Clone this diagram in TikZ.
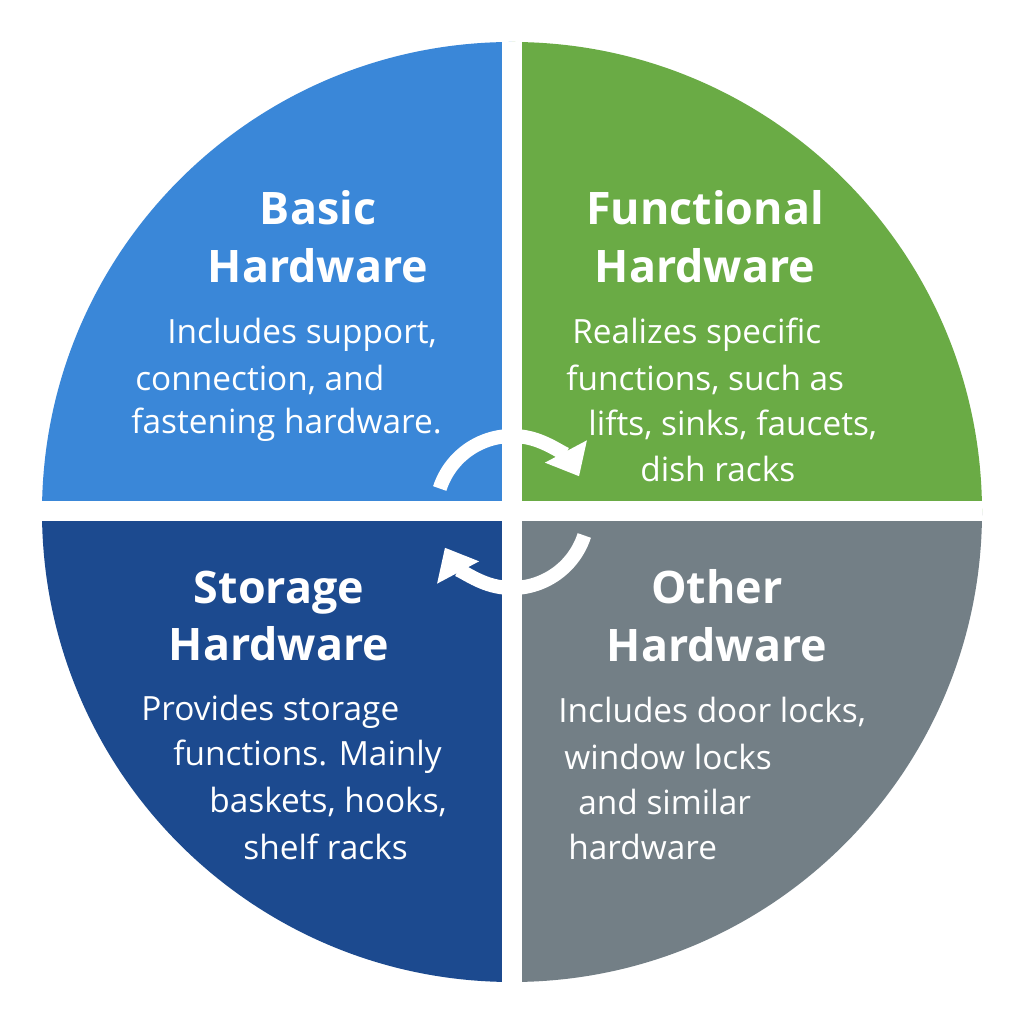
\documentclass[tikz,border=0pt]{standalone}
\usepackage{fontspec}
\setmainfont{Open Sans}
\usetikzlibrary{arrows.meta}
\definecolor{cblue}{HTML}{3A87D8}
\definecolor{cgreen}{HTML}{6AAB45}
\definecolor{cdark}{HTML}{1C4A8F}
\definecolor{cgray}{HTML}{737F86}
\tikzset{
  ttl/.style={text=white,font=\fontsize{25.5}{33}\selectfont\bfseries,align=center,inner sep=0},
  bdy/.style={text=white,font=\fontsize{19}{22}\selectfont,anchor=west,inner sep=0},
  cyc/.style={white,line width=8pt,-{Triangle[length=16pt,width=26pt]}}
}
\begin{document}
\begin{tikzpicture}[x=0.02cm,y=0.02cm]
\useasboundingbox (0,0) rectangle (1024,1024);
\fill[white] (0,0) rectangle (1024,1024);
\begin{scope}
\clip (512,512) circle (470);
\fill[cblue] (0,512) rectangle (512,1024);
\fill[cgreen] (512,512) rectangle (1024,1024);
\fill[cdark] (0,0) rectangle (512,512);
\fill[cgray] (512,0) rectangle (1024,512);
\draw[white,line width=20*0.02cm] (512,0) -- (512,1024);
\draw[white,line width=20*0.02cm] (0,513) -- (1024,513);
\end{scope}
\draw[cyc] (512,512) ++(162:76) arc (162:28:76);
\draw[cyc] (512,512) ++(-18:76) arc (-18:-152:76);
\node[ttl] (t1) at (318,1024-237) {Basic\\Hardware};
\node[ttl] (t2) at (705,1024-237) {Functional\\Hardware};
\node[ttl] (t3) at (279,1024-616) {Storage\\Hardware};
\node[ttl] (t4) at (717,1024-616) {Other\\Hardware};
\node[bdy] (a1) at (167,1024-335) {Includes support,};
\node[bdy] (a2) at (135,1024-380) {connection, and};
\node[bdy] (a3) at (131,1024-425) {fastening hardware.};
\node[bdy] (b1) at (572,1024-335) {Realizes specific};
\node[bdy] (b2) at (566,1024-380) {functions, such as};
\node[bdy] (b3) at (588,1024-425) {lifts, sinks, faucets,};
\node[bdy] (b4) at (640,1024-469) {dish racks};
\node[bdy] (c1) at (141,1024-712) {Provides storage};
\node[bdy] (c2) at (173,1024-757) {functions. Mainly};
\node[bdy] (c3) at (209,1024-802) {baskets, hooks,};
\node[bdy] (c4) at (243,1024-847) {shelf racks};
\node[bdy] (d1) at (558,1024-712) {Includes door locks,};
\node[bdy] (d2) at (564,1024-757) {window locks};
\node[bdy] (d3) at (578,1024-802) {and similar};
\node[bdy] (d4) at (568,1024-847) {hardware};
\end{tikzpicture}
\end{document}
